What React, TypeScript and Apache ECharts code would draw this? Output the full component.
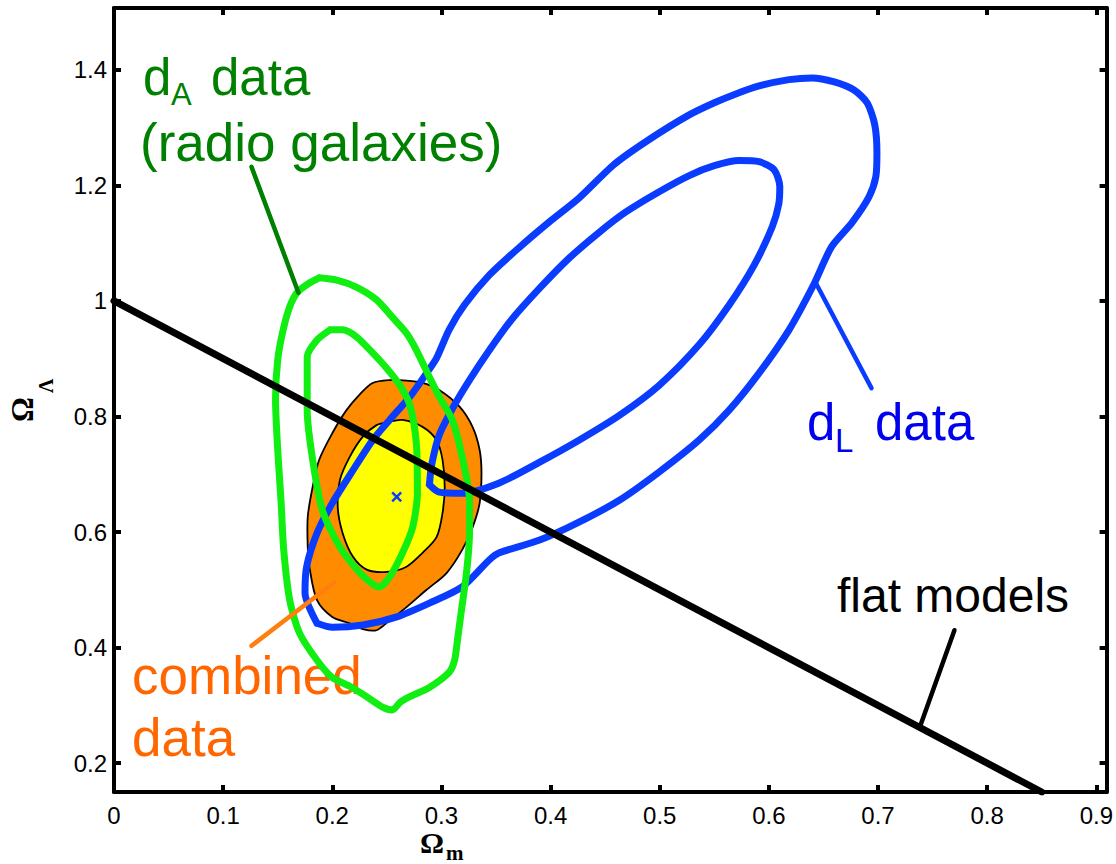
import React, { useEffect, useRef } from "react";
import * as echarts from "echarts";

// ---- tick values ----
const xTicks = [0, 0.1, 0.2, 0.3, 0.4, 0.5, 0.6, 0.7, 0.8, 0.9];
const yTicks = [0.2, 0.4, 0.6, 0.8, 1, 1.2, 1.4];

// ---- combined data (filled contours) ----
const combinedOuter: number[][] = [
  [0.237, 0.858], [0.2525, 0.863], [0.268, 0.862], [0.2827, 0.858], [0.298, 0.846],
  [0.3166, 0.817], [0.3285, 0.782], [0.335, 0.742], [0.3367, 0.702], [0.335, 0.65],
  [0.3285, 0.608], [0.319, 0.569], [0.3047, 0.529], [0.2864, 0.5], [0.268, 0.47],
  [0.2525, 0.447], [0.2405, 0.43], [0.228, 0.432], [0.216, 0.442], [0.2, 0.453],
  [0.186, 0.482], [0.179, 0.54], [0.1775, 0.574], [0.1775, 0.626], [0.182, 0.678],
  [0.188, 0.725], [0.2, 0.771], [0.213, 0.811], [0.225, 0.838],
];
const combinedInner: number[][] = [
  [0.25, 0.79], [0.2644, 0.794], [0.2827, 0.782], [0.2955, 0.759], [0.301, 0.725],
  [0.303, 0.678], [0.301, 0.633], [0.2955, 0.591], [0.2827, 0.564], [0.268, 0.54],
  [0.25, 0.531], [0.2315, 0.535], [0.219, 0.557], [0.2095, 0.598], [0.205, 0.643],
  [0.207, 0.69], [0.216, 0.73], [0.228, 0.765], [0.2405, 0.785],
];

// ---- d_A data (radio galaxies) contours ----
const radioOuter: number[][] = [
  [0.188, 1.04], [0.204, 1.036], [0.222, 1.024], [0.2405, 1.002], [0.255, 0.972],
  [0.268, 0.944], [0.277, 0.915], [0.289, 0.868], [0.298, 0.834], [0.31, 0.794],
  [0.319, 0.73], [0.3257, 0.655], [0.3257, 0.598], [0.323, 0.53], [0.318, 0.46],
  [0.3147, 0.413], [0.312, 0.378], [0.307, 0.357], [0.289, 0.331], [0.271, 0.315],
  [0.262, 0.305], [0.255, 0.292], [0.246, 0.297], [0.2315, 0.315], [0.216, 0.333],
  [0.2, 0.348], [0.186, 0.378], [0.17, 0.425], [0.161, 0.482], [0.1555, 0.569],
  [0.153, 0.655], [0.15, 0.742], [0.148, 0.829], [0.15, 0.898], [0.155, 0.95],
  [0.161, 0.99], [0.168, 1.015], [0.179, 1.031], [0.188, 1.04],
];
const radioInner: number[][] = [
  [0.198, 0.95], [0.2095, 0.95], [0.222, 0.938], [0.237, 0.91], [0.25, 0.883],
  [0.2617, 0.8545], [0.271, 0.82], [0.277, 0.754], [0.278, 0.667], [0.2736, 0.608],
  [0.2644, 0.564], [0.2525, 0.522], [0.243, 0.505], [0.225, 0.53], [0.207, 0.574],
  [0.191, 0.637], [0.182, 0.725], [0.177, 0.811], [0.177, 0.903], [0.186, 0.9325],
  [0.198, 0.95],
];

// ---- d_L data contours ----
const snOuter: number[][] = [
  [0.186, 0.442], [0.2, 0.435], [0.228, 0.439], [0.259, 0.453], [0.289, 0.477],
  [0.319, 0.505], [0.344, 0.552], [0.353, 0.564], [0.39, 0.586], [0.426, 0.617],
  [0.463, 0.655], [0.4995, 0.704], [0.536, 0.759], [0.5636, 0.811], [0.591, 0.875],
  [0.6185, 0.95], [0.641, 1.028], [0.6575, 1.094], [0.676, 1.135], [0.6917, 1.18],
  [0.698, 1.215], [0.699, 1.256], [0.697, 1.305], [0.69, 1.343], [0.678, 1.365],
  [0.66, 1.379], [0.6395, 1.386], [0.6185, 1.383], [0.591, 1.372], [0.568, 1.357],
  [0.55, 1.343], [0.527, 1.322], [0.49, 1.279], [0.458, 1.236], [0.426, 1.178],
  [0.399, 1.137], [0.371, 1.092], [0.344, 1.045], [0.321, 0.993], [0.307, 0.95],
  [0.2955, 0.901], [0.2864, 0.875], [0.271, 0.834], [0.2525, 0.794],
  [0.237, 0.759], [0.219, 0.707], [0.2, 0.65], [0.186, 0.598], [0.1765, 0.54],
  [0.175, 0.495], [0.186, 0.442],
];
const snInner: number[][] = [
  [0.289, 0.682], [0.298, 0.669], [0.319, 0.667], [0.353, 0.685], [0.39, 0.721],
  [0.426, 0.759], [0.463, 0.802], [0.4995, 0.854], [0.536, 0.924], [0.5636, 0.993],
  [0.5865, 1.062], [0.603, 1.128], [0.609, 1.167], [0.61, 1.198], [0.6048, 1.227],
  [0.591, 1.241], [0.5727, 1.243], [0.55, 1.234], [0.527, 1.217], [0.4995, 1.189],
  [0.469, 1.154], [0.4447, 1.119], [0.417, 1.074], [0.39, 1.022], [0.364, 0.967],
  [0.344, 0.915], [0.3257, 0.863], [0.312, 0.82], [0.298, 0.768], [0.291, 0.716],
  [0.289, 0.682],
];

// ---- best fit, flat models, pointers ----
const bestFit: number[][] = [[0.259, 0.661]];
const flatModels: number[][] = [[0, 1], [0.85, 0.15]];
const pointerRadio: number[][] = [[0.126, 1.232], [0.169, 1.014]];
const pointerCombined: number[][] = [[0.126, 0.403], [0.202, 0.513]];
const pointerSN: number[][] = [[0.694, 0.849], [0.643, 1.031]];
const pointerFlat: number[][] = [[0.77, 0.43], [0.739, 0.266]];

const BLUE = "#0a3cff";
const GREEN = "#11ee11";

function fillSeries(points: number[][], fill: string) {
  return {
    type: "custom",
    coordinateSystem: "cartesian2d",
    data: points,
    silent: true,
    renderItem: (params: any, api: any) => {
      if (params.dataIndex !== 0) return null;
      const pts = points.map((p) => api.coord(p));
      return {
        type: "polygon",
        shape: { points: pts, smooth: 0.3 },
        style: { fill, stroke: "#000", lineWidth: 1.8 },
      };
    },
  };
}

function lineSeries(points: number[][], color: string, width: number, smooth: number | boolean = 0.25) {
  return {
    type: "line",
    data: points,
    showSymbol: false,
    symbol: "none",
    smooth,
    silent: true,
    lineStyle: { color, width, join: "round", cap: "round" },
  };
}

const SANS = '"Liberation Sans", Arial, sans-serif';
const SERIF = '"Liberation Serif", "Times New Roman", serif';

function txt(text: string, x: number, y: number, size: number, fill: string, weight = "normal", family = SANS) {
  return {
    type: "text",
    x,
    y,
    silent: true,
    style: {
      text,
      font: `${weight} ${size}px ${family}`,
      lineHeight: Math.round(size * 0.8),
      fill,
      align: "left",
      textAlign: "left",
      verticalAlign: "middle",
      textVerticalAlign: "middle",
    },
  };
}

function axisCommon(ticks: number[], showLabel: boolean, margin = 8) {
  return {
    axisLine: { show: true, onZero: false, lineStyle: { color: "#000", width: 4 } },
    axisTick: { show: true, inside: true, length: 7, customValues: ticks, lineStyle: { color: "#000", width: 4 } },
    splitLine: { show: false },
    axisLabel: {
      show: showLabel,
      customValues: ticks,
      margin,
      color: "#000",
      fontSize: 24,
      fontFamily: SANS,
      formatter: (v: number) => (Math.abs(v) < 1e-9 ? "0" : Math.abs(v - 1) < 1e-9 ? "1" : v.toFixed(1)),
    },
  };
}

export default function App() {
  const ref = useRef<HTMLDivElement>(null);
  useEffect(() => {
    const chart = echarts.init(ref.current!, null, { renderer: "svg" });
    const option: any = {
      animation: false,
      backgroundColor: "#fff",
      grid: { left: 114, top: 8, right: 8, bottom: 72, containLabel: false },
      xAxis: [
        { type: "value", position: "bottom", min: 0, max: 0.9094, ...axisCommon(xTicks, true, 11) },
        { type: "value", position: "top", min: 0, max: 0.9094, ...axisCommon(xTicks, false) },
      ],
      yAxis: [
        { type: "value", position: "left", min: 0.15, max: 1.507, ...axisCommon(yTicks, true, 7) },
        { type: "value", position: "right", min: 0.15, max: 1.507, ...axisCommon(yTicks, false) },
      ],
      series: [
        fillSeries(combinedOuter, "#ff8c00"),
        fillSeries(combinedInner, "#ffff00"),
        lineSeries(snOuter, BLUE, 7),
        lineSeries(snInner, BLUE, 7),
        lineSeries(radioOuter, GREEN, 7),
        lineSeries(radioInner, GREEN, 7),
        {
          type: "custom",
          coordinateSystem: "cartesian2d",
          data: bestFit,
          silent: true,
          renderItem: (_p: any, api: any) => {
            const c = api.coord([api.value(0), api.value(1)]);
            const s = 4.5;
            const st = { stroke: BLUE, lineWidth: 2.5 };
            return {
              type: "group",
              children: [
                { type: "line", shape: { x1: c[0] - s, y1: c[1] - s, x2: c[0] + s, y2: c[1] + s }, style: st },
                { type: "line", shape: { x1: c[0] - s, y1: c[1] + s, x2: c[0] + s, y2: c[1] - s }, style: st },
              ],
            };
          },
        },
        lineSeries(flatModels, "#000", 7, false),
        lineSeries(pointerRadio, "#008000", 4.5, false),
        lineSeries(pointerCombined, "#ff7f0e", 4.5, false),
        lineSeries(pointerSN, BLUE, 4.5, false),
        lineSeries(pointerFlat, "#000", 4.5, false),
      ],
      graphic: [
        // d_A data (radio galaxies)
        txt("d", 143, 77, 51, "#008000"),
        txt("A", 171, 94, 31, "#008000"),
        txt("data", 211, 77, 51, "#008000"),
        txt("(radio galaxies)", 140, 142, 53, "#008000"),
        // d_L data
        txt("d", 807, 422, 51, "#0000ee"),
        txt("L", 835, 440, 33, "#0000ee"),
        txt("data", 875, 422, 51, "#0000ee"),
        // combined data
        txt("combined", 132, 675, 53, "#ff6600"),
        txt("data", 132, 737, 53, "#ff6600"),
        // flat models
        txt("flat models", 837, 595, 48, "#000"),
        // x axis title
        txt("Ω", 420, 842, 30, "#000", "bold", SERIF),
        txt("m", 446, 853, 21, "#000", "bold", SERIF),
        // y axis title (rotated)
        {
          type: "group",
          x: 33,
          y: 422,
          rotation: Math.PI / 2,
          children: [
            txt("Ω", 0, -10.5, 31, "#000", "bold", SERIF),
            txt("Λ", 29, 13, 20, "#000", "bold", SERIF),
          ],
        },
      ],
    };
    chart.setOption(option);
    return () => chart.dispose();
  }, []);
  return (
    <div
      ref={ref}
      style={{ position: "absolute", left: 0, top: 0, width: 1116, height: 864, background: "#fff" }}
    />
  );
}
